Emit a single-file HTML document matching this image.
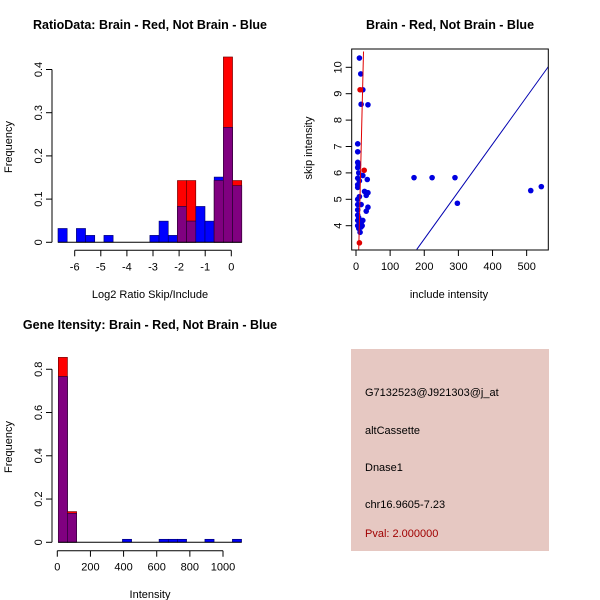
<!DOCTYPE html>
<html><head><meta charset="utf-8"><style>
body{margin:0;background:#fff}
svg{display:block;font-family:"Liberation Sans",Arial,sans-serif}
</style></head><body>
<svg id="c" width="600" height="600" viewBox="0 0 600 600">
<rect width="600" height="600" fill="#fff"/>
<g id="p1"></g>
<g id="p2"></g>
<g id="p3"></g>
<g>
<rect x="351" y="349" width="198" height="202" fill="#e6c8c2"/>
<text x="365" y="396" font-size="11" fill="#000">G7132523@J921303@j_at</text>
<text x="365" y="434" font-size="11" fill="#000">altCassette</text>
<text x="365" y="471" font-size="11" fill="#000">Dnase1</text>
<text x="365" y="508" font-size="11" fill="#000">chr16.9605-7.23</text>
<text x="365" y="537" font-size="11" fill="#a00000">Pval: 2.000000</text>
</g>
</svg>
<script>
// Histogram 1 data
const ratioBlue=[0.032,0,0.032,0.016,0,0.016,0,0,0,0,0.016,0.049,0.016,0.083,0.049,0.083,0.049,0.151,0.266,0.131];
const ratioRed=[0,0,0,0,0,0,0,0,0,0,0,0,0,0.143,0.143,0,0,0.143,0.429,0.143];
const ratioStart=-6.64, ratioBinW=0.352;
const ratioXTicks=[-6,-5,-4,-3,-2,-1,0];
const ratioYTicks=[0,0.1,0.2,0.3,0.4];
// Histogram 2 data
const intBlue=[0.766,0.134,0,0,0,0,0,0.014,0,0,0,0.014,0.014,0.014,0,0,0.014,0,0,0.014];
const intRed=[0.855,0.142,0,0,0,0,0,0,0,0,0,0,0,0,0,0,0,0,0,0];
const intStart=6, intBinW=55.3;
const intXTicks=[0,200,400,600,800,1000];
const intYTicks=[0,0.2,0.4,0.6,0.8];
// Scatter data
const blueX=[10,14,20,15,35,5,5,5,7,5,8,5,5,5,10,20,33,170,223,290,297,512,543,25,30,35,30,35,15,5,5,5,5,5,5,8,12,15,15,8,10,20,18];
const blueY=[10.35,9.75,9.15,8.6,8.58,7.1,6.8,6.4,6.3,6.2,6.0,5.8,5.55,5.45,5.7,5.9,5.75,5.82,5.82,5.82,4.85,5.33,5.48,5.3,5.15,5.25,4.55,4.7,4.8,5.0,4.8,4.6,4.4,4.2,4.0,3.9,3.75,4.1,3.95,4.3,5.1,4.2,4.0];
const redX=[12,24,10];
const redY=[9.15,6.1,3.35];
const redLine=[[8,3.1],[22,10.6]];
const blueLine=[[178,3.1],[565,10.05]];
const scXTicks=[0,100,200,300,400,500];
const scYTicks=[4,5,6,7,8,9,10];

const NS="http://www.w3.org/2000/svg";
function mk(parent,tag,attrs,txt){const e=document.createElementNS(NS,tag);for(const k in attrs)e.setAttribute(k,attrs[k]);if(txt!==undefined)e.textContent=txt;parent.appendChild(e);return e;}

function hist(g,cfg){
  const sx=v=>cfg.x0+(v-cfg.xv0)*cfg.kx, sy=v=>cfg.y0-v*cfg.ky;
  for(let i=0;i<cfg.blue.length;i++){
    const a=sx(cfg.start+i*cfg.bw), b=sx(cfg.start+(i+1)*cfg.bw), r=cfg.red[i], bl=cfg.blue[i];
    if(r>0){const e=mk(g,'rect',{x:a,y:sy(r),width:b-a,height:sy(0)-sy(r),fill:'#ff0000',stroke:'#600000','stroke-width':0.6});
      }
    if(bl>0){const e=mk(g,'rect',{x:a,y:sy(bl),width:b-a,height:sy(0)-sy(bl),fill:'#0000ff',stroke:'#000060','stroke-width':0.6});
      }
    const m=Math.min(r,bl);
    if(m>0){const e=mk(g,'rect',{x:a,y:sy(m),width:b-a,height:sy(0)-sy(m),fill:'#800080',stroke:'#300030','stroke-width':0.6});
      }
  }
  mk(g,'line',{x1:sx(cfg.start),x2:sx(cfg.start+cfg.blue.length*cfg.bw),y1:sy(0),y2:sy(0),stroke:'#000'});
  // y axis
  const yt=cfg.yt;
  mk(g,'line',{x1:cfg.yax,x2:cfg.yax,y1:sy(yt[0]),y2:sy(yt[yt.length-1]),stroke:'#000'});
  yt.forEach(v=>{mk(g,'line',{x1:cfg.yax-6,x2:cfg.yax,y1:sy(v),y2:sy(v),stroke:'#000'});
    const t=mk(g,'text',{x:cfg.yax-10,y:sy(v),'font-size':11,'text-anchor':'middle',transform:`rotate(-90 ${cfg.yax-10} ${sy(v)})`},String(v));
    });
  const xt=cfg.xt;
  mk(g,'line',{x1:sx(xt[0]),x2:sx(xt[xt.length-1]),y1:cfg.xax,y2:cfg.xax,stroke:'#000'});
  xt.forEach(v=>{mk(g,'line',{x1:sx(v),x2:sx(v),y1:cfg.xax,y2:cfg.xax+6,stroke:'#000'});
    const t=mk(g,'text',{x:sx(v),y:cfg.xax+20,'font-size':11,'text-anchor':'middle'},String(v));
    });
}
hist(document.getElementById('p1'),{blue:ratioBlue,red:ratioRed,start:ratioStart,bw:ratioBinW,x0:231.3,xv0:0,kx:26.1,y0:242.3,ky:432,yax:52,xax:250.3,xt:ratioXTicks,yt:ratioYTicks});
hist(document.getElementById('p3'),{blue:intBlue,red:intRed,start:intStart,bw:intBinW,x0:57.3,xv0:0,kx:0.1657,y0:542.3,ky:216.3,yax:52,xax:550.7,xt:intXTicks,yt:intYTicks});

// scatter
(function(){
  const g=document.getElementById('p2');
  const sx=v=>356+v*0.3413, sy=v=>67.3-(v-10)*26.4;
  const L=351.7,R=548.3,T=49,B=250;
  mk(g,'defs',{}).innerHTML='<clipPath id="clp"><rect x="351.7" y="49" width="196.6" height="201"/></clipPath>';
  const cg=mk(g,'g',{'clip-path':'url(#clp)'});
  for(let i=0;i<blueX.length;i++){const c=mk(cg,'circle',{cx:sx(blueX[i]),cy:sy(blueY[i]),r:2.8,fill:'#0000e0'});
    }
  for(let i=0;i<redX.length;i++){const c=mk(cg,'circle',{cx:sx(redX[i]),cy:sy(redY[i]),r:2.8,fill:'#e00000'});
    }
  const rl=mk(cg,'line',{x1:sx(redLine[0][0]),y1:sy(redLine[0][1]),x2:sx(redLine[1][0]),y2:sy(redLine[1][1]),stroke:'#e00000','stroke-width':1});
  
  const bl=mk(cg,'line',{x1:sx(blueLine[0][0]),y1:sy(blueLine[0][1]),x2:sx(blueLine[1][0]),y2:sy(blueLine[1][1]),stroke:'#0000b0','stroke-width':1});
  
  mk(g,'rect',{x:L,y:T,width:R-L,height:B-T,fill:'none',stroke:'#000'});
  scXTicks.forEach(v=>{mk(g,'line',{x1:sx(v),x2:sx(v),y1:B,y2:B+6,stroke:'#000'});
    const t=mk(g,'text',{x:sx(v),y:B+20,'font-size':11,'text-anchor':'middle'},String(v));
    });
  scYTicks.forEach(v=>{mk(g,'line',{x1:L-6,x2:L,y1:sy(v),y2:sy(v),stroke:'#000'});
    const t=mk(g,'text',{x:L-10,y:sy(v),'font-size':11,'text-anchor':'middle',transform:`rotate(-90 ${L-10} ${sy(v)})`},String(v));
    });
})();
</script>
<svg width="600" height="600" style="position:absolute;left:0;top:0">
<g font-family="Liberation Sans, Arial, sans-serif">
<text x="150" y="29" font-size="12.5" font-weight="bold" text-anchor="middle">RatioData: Brain - Red, Not Brain - Blue</text>
<text x="450" y="29" font-size="12.5" font-weight="bold" text-anchor="middle">Brain - Red, Not Brain - Blue</text>
<text x="150" y="329" font-size="12.5" font-weight="bold" text-anchor="middle">Gene Itensity: Brain - Red, Not Brain - Blue</text>
<text x="150" y="298" font-size="11" text-anchor="middle">Log2 Ratio Skip/Include</text>
<text x="12" y="147" font-size="11" text-anchor="middle" transform="rotate(-90 12 147)">Frequency</text>
<text x="449" y="298" font-size="11" text-anchor="middle">include intensity</text>
<text x="312" y="148" font-size="11" text-anchor="middle" transform="rotate(-90 312 148)">skip intensity</text>
<text x="150" y="598" font-size="11" text-anchor="middle">Intensity</text>
<text x="12" y="447" font-size="11" text-anchor="middle" transform="rotate(-90 12 447)">Frequency</text>
</g></svg>
<style>body{position:relative;width:600px;height:600px;overflow:hidden}</style>
</body></html>
